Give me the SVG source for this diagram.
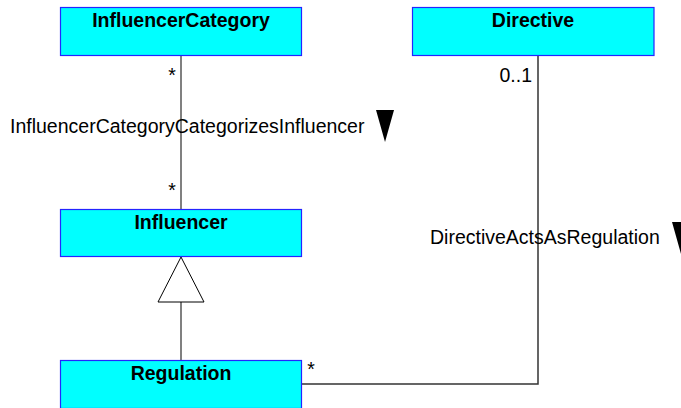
<svg xmlns="http://www.w3.org/2000/svg" width="681" height="408" viewBox="0 0 681 408">
<style>
.box{fill:#00ffff;stroke:#2424ff;stroke-width:1.2}
.title{font-family:"Liberation Sans",Arial,sans-serif;font-size:19.5px;font-weight:bold;text-anchor:middle;fill:#000}
.lbl{font-family:"Liberation Sans",Arial,sans-serif;font-size:19.5px;fill:#000}
.gray{stroke:#808080;stroke-width:2;fill:none}
.dark{stroke:#333;stroke-width:1.5;fill:none}
</style>
<rect width="681" height="408" fill="#fff"/>
<g id="connectors">
  <line class="gray" x1="181" y1="55.5" x2="181" y2="209.5"/>
  <line class="gray" x1="181" y1="302" x2="181" y2="360.5"/>
  <polygon points="181,257 158,302 204,302" fill="#fff" stroke="#000" stroke-width="1"/>
  <polyline class="dark" points="301.5,384 538,384 538,55.5"/>
  <text class="lbl" x="172" y="82" text-anchor="middle">*</text>
  <text class="lbl" x="172" y="197" text-anchor="middle">*</text>
  <text class="lbl" x="10" y="133">InfluencerCategoryCategorizesInfluencer</text>
  <polygon points="376,110 394,110 385,142" fill="#000"/>
  <text class="lbl" x="532" y="82" text-anchor="end">0..1</text>
  <text class="lbl" x="311" y="376" text-anchor="middle">*</text>
  <text class="lbl" x="430" y="244">DirectiveActsAsRegulation</text>
  <polygon points="672,222 690,222 681,254" fill="#000"/>
</g>
<g id="InfluencerCategory">
  <rect class="box" x="60.5" y="7.5" width="241" height="48"/>
  <text class="title" x="181" y="26.5">InfluencerCategory</text>
</g>
<g id="Directive">
  <rect class="box" x="412.5" y="7.5" width="241.5" height="48"/>
  <text class="title" x="533" y="26.5">Directive</text>
</g>
<g id="Influencer">
  <rect class="box" x="60.5" y="209.5" width="241" height="47"/>
  <text class="title" x="181" y="228.5">Influencer</text>
</g>
<g id="Regulation">
  <rect class="box" x="60.5" y="360.5" width="241" height="48"/>
  <text class="title" x="181" y="379.5">Regulation</text>
</g>
</svg>
